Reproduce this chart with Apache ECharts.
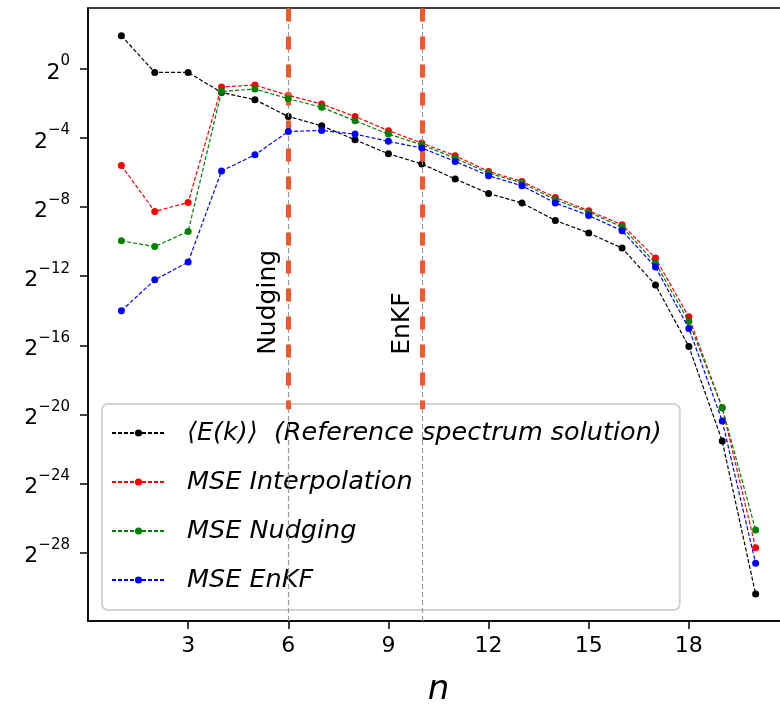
<!DOCTYPE html>
<html lang="en">
    <head>
        <meta charset="UTF-8" />
        <title>Spectrum MSE</title>
        <script src="https://cdn.jsdelivr.net/npm/echarts@6/dist/echarts.min.js"></script>
        <style>
            body {
                margin: 0;
                padding: 0;
                background: #fff;
            }
            #chart {
                width: 780px;
                height: 710px;
            }
        </style>
    </head>
    <body>
        <div id="chart"></div>
        <script>
            // wavenumber shell n
            let nValues = [1, 2, 3, 4, 5, 6, 7, 8, 9, 10, 11, 12, 13, 14, 15, 16, 17, 18, 19, 20];
            // values, stored as exponents (value = 2^e)
            let expReference = [1.93, -0.2, -0.2, -1.36, -1.78, -2.75, -3.29, -4.1, -4.91, -5.5, -6.37, -7.21, -7.76, -8.77, -9.5, -10.37, -12.5, -16.07, -21.54, -30.4];
            let expInterp = [-5.59, -8.25, -7.73, -1.04, -0.93, -1.53, -2.03, -2.75, -3.57, -4.29, -5.02, -5.93, -6.51, -7.44, -8.21, -9.02, -10.95, -14.35, -19.62, -27.72];
            let expNudging = [-9.95, -10.28, -9.41, -1.3, -1.16, -1.72, -2.22, -3.0, -3.77, -4.39, -5.16, -6.03, -6.6, -7.57, -8.29, -9.15, -11.24, -14.62, -19.61, -26.69];
            let expEnKF = [-14.0, -12.21, -11.18, -5.91, -4.97, -3.62, -3.56, -3.77, -4.19, -4.58, -5.35, -6.18, -6.76, -7.76, -8.48, -9.37, -11.47, -15.02, -20.38, -28.62];

            let seriesNames = ['⟨E(k)⟩  (Reference spectrum solution)', 'MSE Interpolation', 'MSE Nudging', 'MSE EnKF'];
            let seriesColors = ['#000000', '#ff0000', '#008000', '#0000ff'];
            let seriesExps = [expReference, expInterp, expNudging, expEnKF];

            let xTicks = [3, 6, 9, 12, 15, 18];
            let yTickExps = [0, -4, -8, -12, -16, -20, -24, -28];

            // start of assimilation windows
            let markerN = [6, 10];
            let markerNames = ['Nudging', 'EnKF'];

            let font = 'DejaVu Sans';
            let pow2 = (e) => Math.pow(2, e);

            let series = [];
            // vertical reference lines, behind the data
            series.push({
                name: 'markers',
                type: 'line',
                data: [],
                z: 1,
                silent: true,
                markLine: {
                    symbol: ['none', 'none'],
                    silent: true,
                    label: { show: false },
                    data: markerN
                        .map((n) => ({
                            xAxis: n,
                            lineStyle: { color: '#9a9a9a', width: 1.2, type: [5, 3] }
                        }))
                        .concat(
                            markerN.map((n) => [
                                { coord: [n, pow2(3.5)], lineStyle: { color: '#f5562a', width: 5, type: [13, 15] } },
                                { coord: [n, pow2(-19.7)] }
                            ])
                        )
                }
            });
            for (let i = 0; i < seriesNames.length; i++) {
                series.push({
                    name: seriesNames[i],
                    type: 'line',
                    z: 3 + i,
                    symbol: 'circle',
                    symbolSize: 7,
                    showAllSymbol: true,
                    color: seriesColors[i],
                    lineStyle: { color: seriesColors[i], width: 1.2, type: [4, 2] },
                    itemStyle: { color: seriesColors[i] },
                    data: seriesExps[i].map((e, k) => [nValues[k], pow2(e)])
                });
            }

            let chartDom = document.getElementById('chart');
            let myChart = echarts.init(chartDom, null, { renderer: 'canvas' });

            let option = {
                animation: false,
                backgroundColor: '#fff',
                textStyle: { fontFamily: font },
                grid: {
                    left: 88,
                    right: -9,
                    top: 8,
                    bottom: 89,
                    show: true,
                    borderColor: '#000',
                    borderWidth: 1.5,
                    outerBoundsMode: 'none'
                },
                legend: {
                    data: seriesNames,
                    orient: 'vertical',
                    left: 102,
                    top: 404,
                    padding: [15, 18, 16, 9],
                    itemGap: 21,
                    itemWidth: 53,
                    itemHeight: 9,
                    backgroundColor: 'rgba(255,255,255,0.92)',
                    borderColor: '#d4d4d4',
                    borderWidth: 2,
                    borderRadius: 6,
                    textStyle: {
                        fontFamily: font,
                        fontStyle: 'italic',
                        fontSize: 25.5,
                        color: '#000',
                        lineHeight: 28,
                        padding: [0, 0, 0, 17]
                    }
                },
                xAxis: {
                    type: 'value',
                    min: 0,
                    max: 21,
                    name: 'n',
                    nameLocation: 'middle',
                    nameGap: 52,
                    nameTextStyle: { fontFamily: font, fontStyle: 'italic', fontSize: 34, color: '#000' },
                    splitLine: { show: false },
                    axisLine: { lineStyle: { color: '#000', width: 1.5 } },
                    axisTick: { show: true, length: 8, customValues: xTicks, lineStyle: { color: '#000', width: 1.5 } },
                    axisLabel: { customValues: xTicks, fontSize: 22, color: '#000', margin: 14, fontFamily: font }
                },
                yAxis: {
                    type: 'log',
                    logBase: 2,
                    min: pow2(-31.96),
                    max: pow2(3.53),
                    splitLine: { show: false },
                    axisLine: { show: true, lineStyle: { color: '#000', width: 1.5 } },
                    axisTick: {
                        show: true,
                        length: 8,
                        customValues: yTickExps.map(pow2),
                        lineStyle: { color: '#000', width: 1.5 }
                    },
                    axisLabel: {
                        customValues: yTickExps.map(pow2),
                        margin: 18,
                        formatter: function (v) {
                            let e = Math.round(Math.log2(v));
                            return '{b|2}{s|' + (e < 0 ? '\u2212' + -e : e) + '}';
                        },
                        rich: {
                            b: { fontSize: 22, fontFamily: font, color: '#000', lineHeight: 30, verticalAlign: 'bottom' },
                            s: { fontSize: 15, fontFamily: font, color: '#000', lineHeight: 18, verticalAlign: 'top' }
                        }
                    }
                },
                series: series
            };
            myChart.setOption(option);

            // rotated labels next to the marker lines
            let texts = markerN.map((n, i) => {
                let p = myChart.convertToPixel({ gridIndex: 0 }, [n, pow2(-16.55)]);
                return {
                    type: 'text',
                    x: p[0] - 7,
                    y: p[1],
                    rotation: Math.PI / 2,
                    z: 2,
                    style: {
                        text: markerNames[i],
                        fontFamily: font,
                        fontSize: 25,
                        fill: '#000',
                        textAlign: 'left',
                        textVerticalAlign: 'bottom'
                    }
                };
            });
            myChart.setOption({ graphic: texts });
        </script>
    </body>
</html>
